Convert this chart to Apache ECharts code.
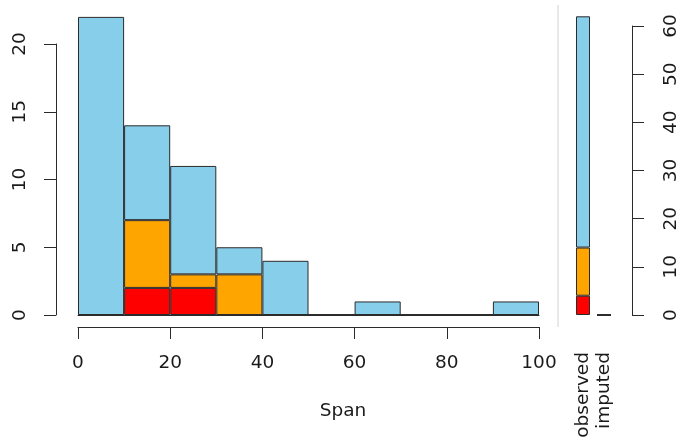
<!DOCTYPE html>
<html>
<head>
<meta charset="utf-8">
<script src="https://cdn.jsdelivr.net/npm/echarts@6/dist/echarts.min.js"></script>
<style>
    html, body { margin: 0; padding: 0; background: #fff; }
    #chart { width: 679px; height: 447px; }
</style>
</head>
<body>
<div id="chart"></div>
<script>
// histogram bins of Span (width 10)
const bins = ['0-10', '10-20', '20-30', '30-40', '40-50', '50-60', '60-70', '70-80', '80-90', '90-100']
const observed = [22, 7, 8, 2, 4, 0, 1, 0, 0, 1]
const imputedOrange = [0, 5, 1, 3, 0, 0, 0, 0, 0, 0]
const imputedRed = [0, 2, 2, 0, 0, 0, 0, 0, 0, 0]

// right hand bar (missing / imputed counts)
const sideCats = ['observed', 'imputed']
const sideObserved = [48, 0]
const sideOrange = [10, 0]
const sideRed = [4, 0]

const xTicks = [0, 20, 40, 60, 80, 100]
const leftTicks = [0, 5, 10, 15, 20]
const rightTicks = [0, 10, 20, 30, 40, 50, 60]

const FONT = 'DejaVu Sans'
const FS = 18.5
const INK = '#1a1a1a'
const BORDER = '#2b2b2b'

const chart = echarts.init(document.getElementById('chart'))

const barStyle = (color) => ({ color: color, borderColor: BORDER, borderWidth: 1 })
const axisLine = { show: true, onZero: false, lineStyle: { color: BORDER, width: 1 } }

chart.setOption({
    animation: false,
    backgroundColor: '#fff',
    textStyle: { fontFamily: FONT },
    grid: [
        { left: 78, top: 16.9, width: 461, height: 298.1, outerBoundsMode: 'none' },   // bars
        { left: 78, top: 44, width: 461, height: 271, outerBoundsMode: 'none' },       // left axis
        { left: 572.5, top: 16.3, width: 42, height: 298.7, outerBoundsMode: 'none' }, // side bar
        { left: 572.5, top: 26, width: 42, height: 289, outerBoundsMode: 'none' }      // right axis
    ],
    xAxis: [
        {
            gridIndex: 0, type: 'category', data: bins, position: 'bottom',
            axisLine: axisLine,
            axisTick: { show: false }, axisLabel: { show: false }, splitLine: { show: false }
        },
        {
            gridIndex: 0, type: 'value', position: 'bottom', offset: 12,
            min: xTicks[0], max: xTicks[xTicks.length - 1], interval: 20,
            axisLine: axisLine,
            axisTick: { show: true, length: 12, lineStyle: { color: BORDER } },
            axisLabel: { fontSize: FS, color: INK, margin: 27, fontFamily: FONT },
            splitLine: { show: false }
        },
        { gridIndex: 1, type: 'value', show: false },
        {
            gridIndex: 2, type: 'category', data: sideCats,
            axisLine: { show: false }, axisTick: { show: false },
            axisLabel: { rotate: 90, fontSize: FS, color: INK, margin: 37, fontFamily: FONT, interval: 0 }
        },
        { gridIndex: 3, type: 'value', show: false }
    ],
    yAxis: [
        { gridIndex: 0, type: 'value', min: 0, max: 22, show: false },
        {
            gridIndex: 1, type: 'value', position: 'left', offset: 22,
            min: leftTicks[0], max: leftTicks[leftTicks.length - 1], interval: 5,
            axisLine: axisLine,
            axisTick: { show: true, length: 12, lineStyle: { color: BORDER } },
            axisLabel: { rotate: 90, fontSize: FS, color: INK, margin: 26, fontFamily: FONT },
            splitLine: { show: false }
        },
        { gridIndex: 2, type: 'value', min: 0, max: 62, show: false },
        {
            gridIndex: 3, type: 'value', position: 'right', offset: 17.5,
            min: rightTicks[0], max: rightTicks[rightTicks.length - 1], interval: 10,
            axisLine: axisLine,
            axisTick: { show: true, length: 12, lineStyle: { color: BORDER } },
            axisLabel: { rotate: 90, fontSize: FS, color: INK, margin: 30, fontFamily: FONT },
            splitLine: { show: false }
        }
    ],
    series: [
        { type: 'bar', name: 'red', stack: 'h', xAxisIndex: 0, yAxisIndex: 0, barCategoryGap: '0%', data: imputedRed, itemStyle: barStyle('#FF0000') },
        { type: 'bar', name: 'orange', stack: 'h', xAxisIndex: 0, yAxisIndex: 0, barCategoryGap: '0%', data: imputedOrange, itemStyle: barStyle('#FFA500') },
        { type: 'bar', name: 'observed', stack: 'h', xAxisIndex: 0, yAxisIndex: 0, barCategoryGap: '0%', data: observed, itemStyle: barStyle('#87CEEB') },
        { type: 'bar', name: 'sideRed', stack: 's', xAxisIndex: 3, yAxisIndex: 2, barWidth: 14, data: sideRed, itemStyle: barStyle('#FF0000') },
        { type: 'bar', name: 'sideOrange', stack: 's', xAxisIndex: 3, yAxisIndex: 2, barWidth: 14, data: sideOrange, itemStyle: barStyle('#FFA500') },
        { type: 'bar', name: 'sideObserved', stack: 's', xAxisIndex: 3, yAxisIndex: 2, barWidth: 14, data: sideObserved, itemStyle: barStyle('#87CEEB') }
    ],
    graphic: [
        {
            type: 'line', shape: { x1: 558, y1: 5, x2: 558, y2: 327 },
            style: { stroke: '#d3d3d3', lineWidth: 1 }, silent: true
        },
        {
            type: 'text', x: 343, y: 411,
            style: { text: 'Span', fontSize: FS, fontFamily: FONT, fill: INK, textAlign: 'center', textVerticalAlign: 'middle' }
        }
    ]
})
</script>
</body>
</html>
